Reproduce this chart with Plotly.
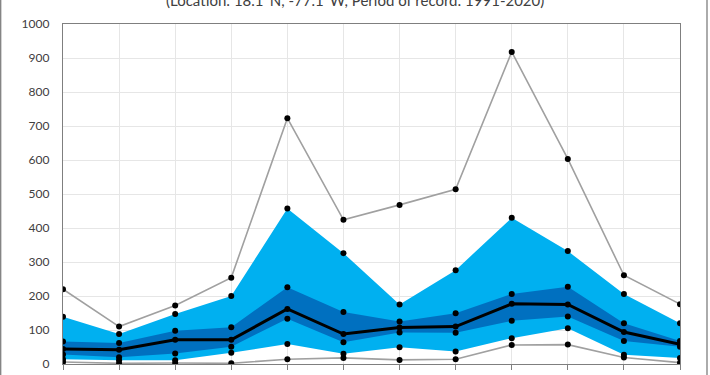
import plotly.graph_objects as go

months = ["Jan", "Feb", "Mar", "Apr", "May", "Jun", "Jul", "Aug", "Sep", "Oct", "Nov", "Dec"]
p_max = [220, 110, 172, 254, 723, 424, 468, 514, 918, 603, 261, 176]
p90 = [139, 88, 147, 200, 457, 326, 175, 276, 430, 332, 206, 120]
p75 = [66, 62, 98, 108, 226, 153, 125, 149, 206, 227, 120, 68]
median = [44, 42, 71, 71, 162, 88, 107, 110, 177, 175, 94, 58]
p25 = [28, 20, 31, 51, 133, 64, 93, 92, 127, 140, 68, 51]
p10 = [14, 11, 11, 33, 59, 30, 49, 37, 76, 105, 27, 18]
p_min = [6, 2, 3, 2, 14, 18, 12, 14, 56, 57, 19, 4]
y_ticks = [0, 100, 200, 300, 400, 500, 600, 700, 800, 900, 1000]
title_text = "(Location: 18.1°N, -77.1°W, Period of record: 1991-2020)"

x = list(range(len(months)))
LIGHT = "#00B0F0"
DARK = "#0070C0"
GRAY = "#A0A0A0"
dot = dict(color="black", size=6)

fig = go.Figure()
# light band p10-p90
fig.add_trace(go.Scatter(x=x, y=p10, mode="lines", line=dict(width=0, color=LIGHT), showlegend=False, hoverinfo="skip"))
fig.add_trace(go.Scatter(x=x, y=p90, mode="lines", line=dict(width=0, color=LIGHT), fill="tonexty", fillcolor=LIGHT, showlegend=False, hoverinfo="skip"))
# dark band p25-p75
fig.add_trace(go.Scatter(x=x, y=p25, mode="lines", line=dict(width=0, color=DARK), showlegend=False, hoverinfo="skip"))
fig.add_trace(go.Scatter(x=x, y=p75, mode="lines", line=dict(width=0, color=DARK), fill="tonexty", fillcolor=DARK, showlegend=False, hoverinfo="skip"))
# max / min lines
fig.add_trace(go.Scatter(x=x, y=p_max, mode="lines+markers", line=dict(width=1.6, color=GRAY), marker=dot, showlegend=False))
fig.add_trace(go.Scatter(x=x, y=p_min, mode="lines+markers", line=dict(width=1.6, color=GRAY), marker=dot, showlegend=False))
# percentile dots
for s in (p10, p90, p25, p75):
    fig.add_trace(go.Scatter(x=x, y=s, mode="markers", marker=dot, showlegend=False))
# median
fig.add_trace(go.Scatter(x=x, y=median, mode="lines+markers", line=dict(width=3, color="black"), marker=dot, showlegend=False))

L, R, T, B = 63, 30, 24, 11
W, H = 710, 375
pw = W - L - R

fig.update_layout(
    width=W, height=H,
    margin=dict(l=L, r=R, t=T, b=B, autoexpand=False),
    paper_bgcolor="white", plot_bgcolor="white",
    font=dict(family="Lato, Liberation Sans, sans-serif", size=12, color="#404040"),
    xaxis=dict(
        range=[0, 11], tickvals=x, ticktext=months, automargin=False,
        showgrid=True, gridcolor="#E6E6E6", gridwidth=1,
        showline=True, linecolor="#7F7F7F", linewidth=1.3, mirror=True,
        ticks="outside", ticklen=5, tickcolor="#7F7F7F",
        zeroline=False, fixedrange=True,
    ),
    yaxis=dict(
        range=[0, 1000], tickvals=y_ticks, automargin=False,
        showgrid=True, gridcolor="#E6E6E6", gridwidth=1,
        showline=True, linecolor="#7F7F7F", linewidth=1.3, mirror=True,
        ticks="", ticklabelstandoff=10,
        zeroline=False, fixedrange=True,
    ),
    annotations=[dict(
        text=title_text, xref="paper", yref="paper",
        x=(355 - L) / pw, y=1, xanchor="center", yanchor="bottom", yshift=13,
        showarrow=False, font=dict(size=15, color="#404040"),
    )],
    shapes=[
        dict(type="line", xref="paper", yref="paper", x0=(0.7 - L) / pw, x1=(0.7 - L) / pw,
             y0=-0.2, y1=1.2, line=dict(color="#7F7F7F", width=1.3)),
        dict(type="line", xref="paper", yref="paper", x0=(707 - L) / pw, x1=(707 - L) / pw,
             y0=-0.2, y1=1.2, line=dict(color="#7F7F7F", width=1.3)),
    ],
)

fig.write_html(
    "out.html",
    config={"displayModeBar": False},
    post_script="document.body.style.margin='0';document.body.style.overflow='hidden';",
)
